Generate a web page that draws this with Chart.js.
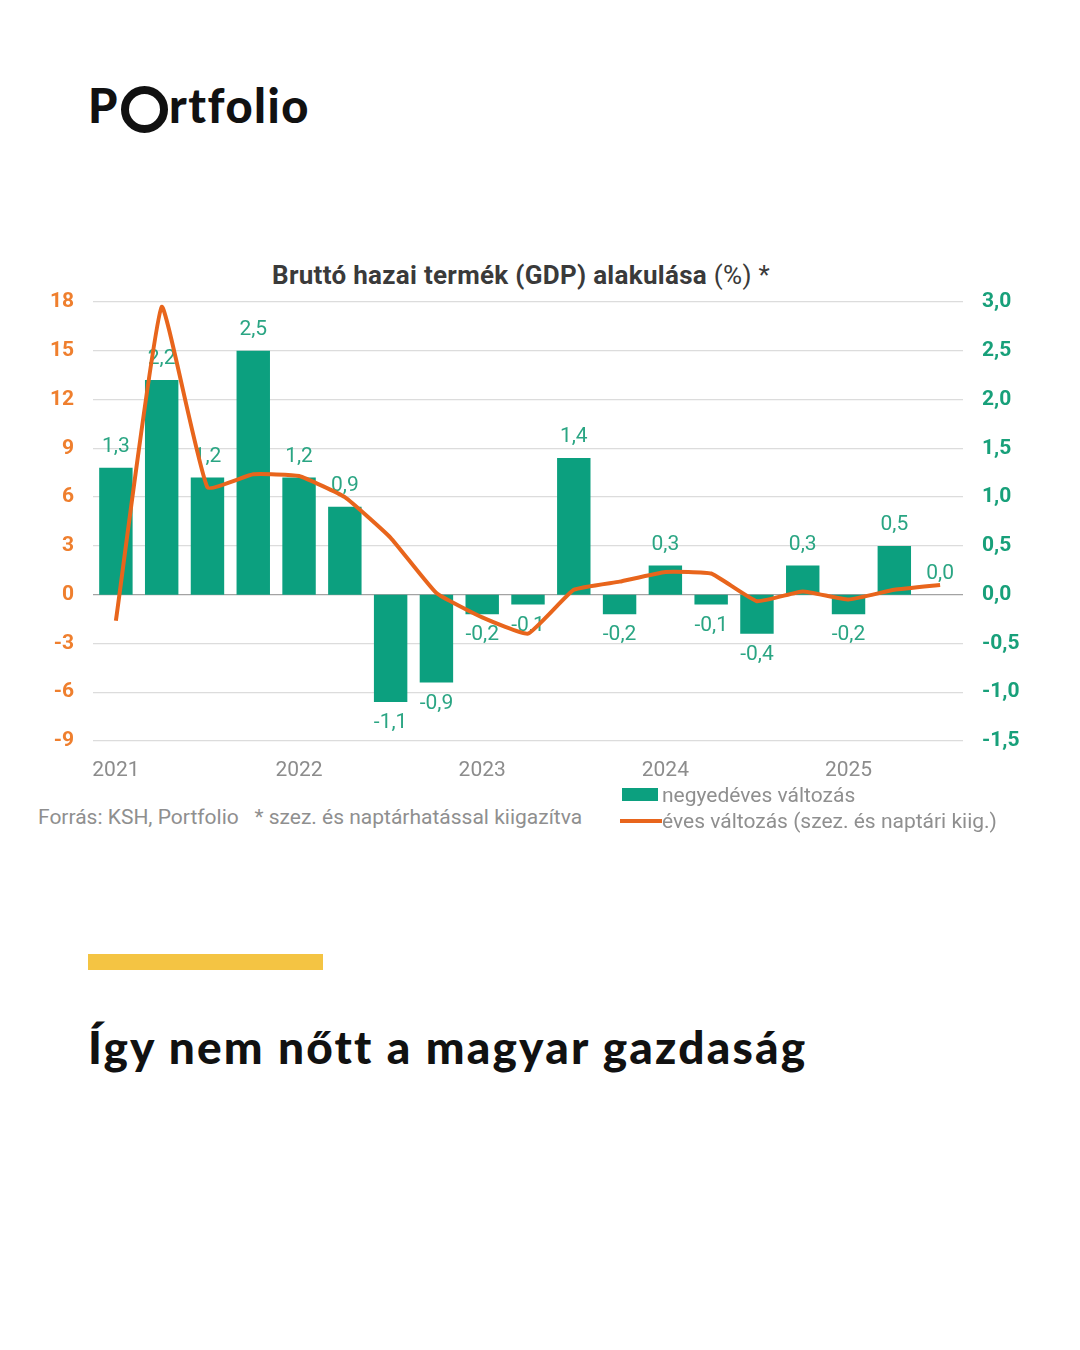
<!DOCTYPE html>
<html>
<head>
<meta charset="utf-8">
<script src="https://cdn.jsdelivr.net/npm/chart.js@4.4.1/dist/chart.umd.min.js"></script>
<style>
  html, body { margin: 0; padding: 0; background: #fff; }
  body { width: 1080px; height: 1350px; position: relative; overflow: hidden; font-family: Roboto, sans-serif; }
  .logo { position: absolute; left: 88px; top: 70px; font-family: Lato, sans-serif; font-weight: 900; font-size: 47px; letter-spacing: 1.5px; color: #111; white-space: nowrap; line-height: 70px; }
  .logo .ring { display: inline-block; width: 31px; height: 31px; border: 8px solid #111; border-radius: 50%; vertical-align: -10px; margin: 0 1px 0 2px; }
  .title { position: absolute; left: 0; width: 1042px; top: 260px; text-align: center; font-size: 26px; letter-spacing: 0.3px; font-weight: 700; color: #3a3a3a; }
  .title span { font-weight: 400; }
  #wrap { position: absolute; left: 0; top: 290px; width: 1080px; height: 501px; }
  .source { position: absolute; left: 38px; top: 805px; font-size: 21px; color: #8f8f8f; white-space: nowrap; }
  .leg { position: absolute; left: 620px; font-size: 21px; color: #8f8f8f; white-space: nowrap; }
  .leg .box { position: absolute; left: 2px; top: 5px; width: 36px; height: 13px; background: #0ca07f; }
  .leg .ln { position: absolute; left: 0; top: 10px; width: 42px; height: 4px; background: #e8651c; }
  .leg .t { position: absolute; left: 42px; top: 0; }
  .accent { position: absolute; left: 88px; top: 954px; width: 235px; height: 16px; background: #f4c443; }
  .head { position: absolute; left: 88px; top: 1019px; font-family: Lato, sans-serif; font-weight: 900; font-size: 46px; letter-spacing: 2.2px; color: #111; white-space: nowrap; }
</style>
</head>
<body>
<div class="logo">P<span class="ring"></span>rtfolio</div>
<div class="title">Bruttó hazai termék (GDP) alakulása <span>(%) *</span></div>
<div id="wrap"><canvas id="chart"></canvas></div>
<div class="source">Forrás: KSH, Portfolio &nbsp;&nbsp;* szez. és naptárhatással kiigazítva</div>
<div class="leg" style="top:783px"><div class="box"></div><div class="t">negyedéves változás</div></div>
<div class="leg" style="top:809px"><div class="ln"></div><div class="t">éves változás (szez. és naptári kiig.)</div></div>
<div class="accent"></div>
<div class="head">Így nem nőtt a magyar gazdaság</div>

<script>
// negyedévek: 2021 I. – 2025 III.
var quarters = [
  '2021Q1', '2021Q2', '2021Q3', '2021Q4',
  '2022Q1', '2022Q2', '2022Q3', '2022Q4',
  '2023Q1', '2023Q2', '2023Q3', '2023Q4',
  '2024Q1', '2024Q2', '2024Q3', '2024Q4',
  '2025Q1', '2025Q2', '2025Q3'
];
// negyedéves változás (%), jobb tengely
var qoqValues = [1.3, 2.2, 1.2, 2.5, 1.2, 0.9, -1.1, -0.9, -0.2, -0.1, 1.4, -0.2, 0.3, -0.1, -0.4, 0.3, -0.2, 0.5, 0.0];
// éves változás (%), bal tengely
var yoyValues = [-1.6, 17.7, 6.6, 7.4, 7.3, 6.0, 3.5, 0.1, -1.4, -2.4, 0.3, 0.8, 1.4, 1.3, -0.4, 0.2, -0.3, 0.3, 0.6];
// x tengely feliratai (csak az I. negyedévnél)
var yearLabels = ['2021', '', '', '', '2022', '', '', '', '2023', '', '', '', '2024', '', '', '', '2025', '', ''];

var TEAL = '#0ca07f', TEAL_TXT = '#2aa583', ORANGE = '#e8651c';

var fmt = function (v, d) { return v.toFixed(d).replace('.', ','); };

// oszlopfeliratok — a vonal alá rajzolva
var barLabels = {
  id: 'barLabels',
  afterDatasetDraw: function (chart, args) {
    if (args.index !== 0) return;
    var ctx = chart.ctx, meta = chart.getDatasetMeta(0);
    var y2 = chart.scales.y2;
    ctx.save();
    ctx.font = '21px Roboto';
    ctx.fillStyle = TEAL_TXT;
    ctx.textAlign = 'center';
    ctx.textBaseline = 'middle';
    meta.data.forEach(function (bar, i) {
      var v = qoqValues[i];
      var y = v >= 0 ? y2.getPixelForValue(v) - 21 : y2.getPixelForValue(v) + 21;
      ctx.fillText(fmt(v, 1), bar.x, y);
    });
    ctx.restore();
  }
};

var noPad = function (s) { s.paddingTop = 0; s.paddingBottom = 0; };

new Chart(document.getElementById('chart'), {
  type: 'bar',
  data: {
    labels: quarters,
    datasets: [{
      type: 'bar', label: 'negyedéves változás', data: qoqValues, yAxisID: 'y2',
      backgroundColor: TEAL, categoryPercentage: 1, barPercentage: 0.73, order: 1,
    }, {
      type: 'line', label: 'éves változás (szez. és naptári kiig.)', data: yoyValues, yAxisID: 'y',
      borderColor: ORANGE, borderWidth: 4, pointRadius: 0, tension: 0.12, fill: false, order: 0,
    }]
  },
  options: {
    responsive: true, maintainAspectRatio: false, animation: false,
    layout: {padding: {top: 12, left: 0, right: 0, bottom: 0}},
    plugins: {legend: {display: false}, tooltip: {enabled: false}},
    scales: {
      x: {
        offset: true,
        grid: {display: false},
        border: {display: false},
        ticks: {
          autoSkip: false, maxRotation: 0, padding: 9,
          color: '#8c8c8c', font: {family: 'Roboto', size: 21},
          callback: function (v, i) { return yearLabels[i]; }
        },
        afterFit: function (s) { s.height = 50; s.paddingLeft = 0; s.paddingRight = 0; }
      },
      y: {
        position: 'left', min: -9, max: 18,
        grid: {
          drawTicks: false, lineWidth: 1.3,
          color: function (c) { return c.tick && c.tick.value === 0 ? '#a3a3a3' : '#dcdcdc'; }
        },
        border: {display: false},
        ticks: {stepSize: 3, padding: 19, color: '#ef7f2e', font: {family: 'Roboto', size: 21, weight: 'bold'}},
        afterFit: function (s) { s.width = 93; noPad(s); }
      },
      y2: {
        position: 'right', min: -1.5, max: 3.0,
        grid: {display: false, drawTicks: false},
        border: {display: false},
        ticks: {
          stepSize: 0.5, padding: 19, color: '#18a07a', font: {family: 'Roboto', size: 21, weight: 'bold'},
          callback: function (v) { return fmt(v, 1); }
        },
        afterFit: function (s) { s.width = 117; noPad(s); }
      }
    }
  },
  plugins: [barLabels]
});
</script>
</body>
</html>
